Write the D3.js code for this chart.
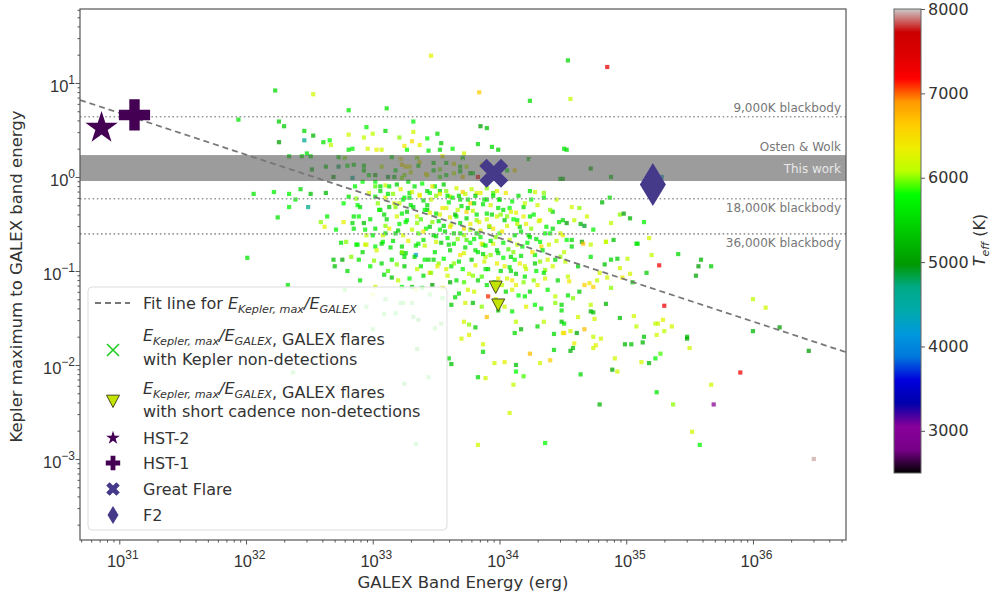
<!DOCTYPE html>
<html><head><meta charset="utf-8">
<script src="https://cdn.jsdelivr.net/npm/d3@7"></script>
<style>body{margin:0;background:#fff;} svg{display:block;font-family:"DejaVu Sans",sans-serif;}</style>
</head><body><svg id="chart" width="995" height="596"></svg>
<script>
// ---------- DATA (log10 values) ----------
// Each row: [log10 GALEX energy (erg), log10 Kepler/GALEX ratio, Teff (K)]
const flaresUpperLeft = [
[32.23,0.92,5500],[32.53,0.88,6200],[31.94,0.61,5600],[32.81,0.71,5600],[33.11,0.73,5600],[32.26,0.59,5400],[32.30,0.54,5400],[32.26,0.37,5000],[32.46,0.49,5500],[32.46,0.39,4600],[32.53,0.44,5200],[32.95,0.53,5700],[33.00,0.46,6100],[33.10,0.49,5500],[32.93,0.42,6100],[32.81,0.45,6200],[32.66,0.39,5800],[32.61,0.37,5600],[32.67,0.34,6100],[33.21,0.42,6000],[32.96,0.30,6200],[33.03,0.29,6300],[33.07,0.29,6200],[32.81,0.29,5600],[32.84,0.30,5700],[32.48,0.25,5600],[32.51,0.22,5500],[32.44,0.22,5600],[32.34,0.22,5500],[32.52,0.08,5200],[32.63,0.11,5400],[32.73,0.11,4800],[32.73,0.21,5500],[32.78,0.20,6000],[32.80,0.12,5700],[32.85,0.13,5500],[32.84,-0.01,4700],[32.69,0.00,5000],[32.93,0.12,5600],[32.93,0.07,5500],[32.97,0.02,5800],[33.02,0.02,5200],[33.07,0.11,6100],[33.12,0.00,4900],[33.18,0.07,5700],[33.15,0.21,5600],[33.22,0.19,6300],[33.23,0.13,6500],[33.26,0.11,6400],[33.17,0.00,5300],[33.23,-0.01,6000],
[32.06,-0.18,5600],[32.22,-0.16,5700],[32.34,-0.18,5700],[32.43,-0.13,5500],[32.39,-0.24,5600],[32.51,-0.18,5300],[32.63,-0.17,5200],[32.34,-0.32,5700],[32.49,-0.32,4700],[32.25,-0.43,5600],[32.64,-0.42,5700],[32.59,-0.48,6000],[32.62,-0.53,6300],[32.71,-0.56,5700],[32.77,-0.48,6300],[32.84,-0.49,5500],[32.85,-0.42,5600],[32.77,-0.28,5800],[32.81,-0.21,5600],[32.87,-0.23,6000],[32.90,-0.32,5500],[32.89,-0.42,5800],[32.93,-0.49,5300],[32.94,-0.56,5700],[33.02,-0.55,5600],[33.00,-0.62,5600],[33.10,-0.52,6000],[33.10,-0.60,5500],[33.18,-0.60,5400],[32.97,-0.17,6200],[33.02,-0.21,5700],[33.06,-0.35,5600],[33.13,-0.32,5400],[33.21,-0.28,6100],[33.23,-0.39,5700],[33.19,-0.42,6200],[32.88,-0.72,5700],[32.95,-0.72,6200],[33.08,-0.69,5800],[33.23,-0.74,5500],[32.79,-0.69,6000],[33.02,-0.74,5700],[32.86,-0.10,5700],[32.92,-0.05,5800],[33.06,-0.10,5500],[33.10,-0.09,6100],[33.02,-0.10,5900]
];
const flaresUpperMid = [
[33.46,1.29,6300],[33.84,0.90,6600],[34.24,0.81,5500],[33.32,0.59,5700],[33.32,0.48,6200],[33.31,0.38,6500],[33.43,0.41,5700],[33.51,0.46,5500],[33.54,0.36,5400],[33.53,0.29,5500],[33.37,0.34,6300],[33.27,0.29,5800],[33.25,0.33,6400],[33.85,0.54,5000],[33.90,0.52,5300],[33.94,0.32,5500],[33.99,0.29,5400],[34.53,0.29,5500],[33.71,0.20,5500],[34.23,0.19,5400],[34.12,0.07,6500],[34.50,-0.02,5300],[33.83,0.00,7200],[33.29,0.11,6300],[33.37,0.16,6400],[33.48,0.07,5600],[33.58,0.15,5500],[33.64,0.04,6100],[33.69,0.11,5600],[33.77,0.04,5300],[33.53,0.00,5900],[33.43,0.02,6200],[33.25,0.02,6000],[33.71,0.00,6500],[34.06,0.07,5600],
[34.28,-0.16,6200],[34.35,-0.17,6000],[34.25,-0.24,5800],[34.42,-0.37,5500],[34.45,-0.24,6100],[34.50,-0.46,5500],[34.37,-0.53,5700],[34.48,-0.60,6200],[34.53,-0.67,5800],[34.19,-0.32,5600],[34.14,-0.46,5700],[34.06,-0.42,6000],[34.00,-0.24,5600],[33.95,-0.17,5900],[33.90,-0.24,5500],[33.82,-0.17,6300],[33.77,-0.28,6600],[33.69,-0.24,5600],[33.61,-0.21,6100],[33.53,-0.15,5500],[33.45,-0.17,5800],[33.37,-0.19,6200],[33.29,-0.17,5600],[33.24,-0.24,5700],[33.32,-0.32,5500],[33.43,-0.35,5300],[33.50,-0.39,5600],[33.58,-0.33,6200],[33.66,-0.42,5700],[33.74,-0.37,6500],[33.82,-0.46,6000],[33.90,-0.39,5600],[33.98,-0.42,6200],[34.08,-0.33,5800],[34.16,-0.53,5500],[34.24,-0.42,5700],[34.32,-0.46,6300],[34.40,-0.60,5700],[33.27,-0.46,5700],[33.35,-0.49,6000],[33.45,-0.53,5400],[33.53,-0.56,5800],[33.61,-0.53,6400],[33.69,-0.60,5600],[33.77,-0.56,6000],[33.85,-0.64,5700],[33.92,-0.53,5300],[34.00,-0.60,5900],[34.08,-0.67,6100],[34.24,-0.64,5600],[34.32,-0.69,5800],[33.40,-0.67,5600],[33.50,-0.69,6200],[33.64,-0.71,5700],[33.74,-0.67,5900],[33.87,-0.72,5500],[33.95,-0.71,6200]
];
const flaresRight = [
[34.54,1.24,5500],[34.85,1.17,7400],[34.56,0.83,6100],[34.51,0.30,5600],[34.72,0.09,5200],[34.88,0.00,5300],[34.48,-0.02,5400],[35.28,0.00,4300],[34.87,-0.22,5500],[34.81,-0.27,5200],[34.57,-0.32,6200],[34.63,-0.33,6000],[34.69,-0.42,6200],[34.95,-0.40,6000],[34.98,-0.39,5000],[35.03,-0.44,5200],[34.88,-0.49,6100],[35.14,-0.48,5700],[34.53,-0.49,5000],[34.64,-0.50,5200],[34.67,-0.52,4900],[34.59,-0.46,6100],[34.74,-0.56,5700],[35.09,-0.71,5600],[35.18,-0.65,6200],[34.90,-0.67,5300],[34.84,-0.69,6200],[34.57,-0.67,5500],[34.65,-0.69,5100],
[35.26,-0.94,7300],[35.59,-0.88,5200],[35.57,-0.95,5000],[35.67,-0.95,5400],[35.55,-1.05,5100],[35.41,-0.82,5500],[35.20,-0.83,6100],[35.16,-1.02,5400],[35.30,-1.37,7300],[36.00,-1.30,6100],[36.10,-1.39,6200],[36.00,-1.64,5200],[36.21,-1.60,5000],[36.44,-1.85,5000],[35.90,-2.08,7300],[35.48,-1.70,5300],[35.48,-1.72,5100],[35.50,-1.82,6200],[35.67,-2.21,6200],[35.69,-2.42,3000],[35.52,-2.71,6200],[35.58,-2.85,5700],[36.48,-3.00,7950],[34.79,-2.42,5200],[35.24,-2.29,5600],[35.37,-2.42,6000],[34.64,-2.10,5500],[34.89,-2.05,5100],[34.93,-2.07,6200],[34.91,-1.93,6200],[35.12,-1.97,6200],[35.18,-1.98,5200],[35.23,-1.93,5700],[35.27,-1.88,5900],[34.99,-1.78,5200],[35.04,-1.78,5300],[35.13,-1.76,5200],[35.14,-1.70,5300],[35.24,-1.68,6200],[35.30,-1.64,6100],[35.36,-1.59,6200],[35.25,-1.56,6200],[35.23,-1.56,6100],[35.29,-1.52,6300],[35.08,-1.59,6100],[35.06,-1.48,6200],[34.95,-1.50,5300],[34.84,-1.35,5200],[34.74,-1.44,5300],[34.72,-1.43,5200],[34.80,-1.72,6200],[34.74,-1.70,6100],[34.76,-1.79,6300],[34.74,-1.82,6200],[34.59,-1.77,6300],[34.58,-1.82,5300],[34.56,-1.85,5200],[34.67,-1.62,6700],[34.61,-1.66,5100],[34.51,-1.66,6600],[34.56,-1.64,6200],[34.49,-1.54,5300],[34.75,-1.51,6200],[34.49,-1.36,5500],[34.62,-1.49,6200],[34.72,-1.36,6100],[34.63,-1.22,5400],[34.54,-1.26,5600],[34.58,-1.29,6000],[34.74,-1.17,6600],[34.67,-1.15,6600],[34.71,-1.13,6400],[34.77,-1.10,6100],[34.85,-1.07,6200],[34.88,-1.18,6000],[34.97,-1.07,6400],[35.03,-1.03,6200],[35.05,-1.12,5400],[34.95,-0.97,6200],[34.88,-0.88,5500],[34.83,-0.93,5300],[34.93,-0.87,5400],[35.01,-0.87,6100],[34.72,-0.85,5600],[34.79,-1.02,6200],[34.62,-0.95,5400],[34.54,-1.06,6100],[34.55,-1.11,6400],[34.66,-0.71,6700],[34.57,-0.74,5500],[34.72,-0.72,6100],[34.84,-0.69,6100],[35.08,-0.71,5600],[34.48,-0.85,6000]
];
const flaresLower = [
[33.91,-1.27,7100],[33.90,-1.49,6700],[33.34,-2.84,5500],[33.83,-2.85,6200],[34.36,-2.83,5800],[34.08,-2.51,6200],[33.83,-2.13,5500],[33.89,-2.14,6200],[34.11,-2.21,6100],[34.13,-2.00,5300],[34.13,-2.07,5800],[34.19,-2.12,5900],[33.96,-1.98,6200],[34.04,-1.97,6300],[34.24,-1.88,6700],[34.32,-1.98,6200],[34.40,-1.95,6600],[34.43,-1.84,5500],[33.60,-1.93,5500],[33.62,-1.99,5300],[33.44,-2.13,5500],[33.25,-2.20,5300],[33.35,-1.83,5300],[33.87,-1.86,5500],[33.87,-1.78,6200],[33.70,-1.72,6200],[33.76,-1.68,6300],[33.49,-1.61,5500],[33.54,-1.56,5400],[33.36,-1.52,5200],[33.32,-1.49,5300],[33.76,-1.57,6000],[33.81,-1.60,5400],[33.72,-1.54,6200],[34.12,-1.66,5500],[34.17,-1.62,5200],[34.30,-1.59,5500],[34.35,-1.54,6100],[34.43,-1.67,5500],[34.51,-1.56,5600],[34.50,-1.66,6400],[33.24,-1.34,5600],[33.31,-1.34,5500],[33.55,-1.29,5700],[33.62,-1.36,5400],[33.73,-1.34,6200],[33.79,-1.34,5300],[33.86,-1.38,6000],[33.99,-1.42,5500],[34.04,-1.38,6200],[34.10,-1.43,5700],[34.13,-1.54,6100],[34.21,-1.38,6300],[34.28,-1.36,5800],[34.33,-1.40,5500],[34.44,-1.34,6000],[34.49,-1.42,5600],[33.47,-1.15,5000],[33.61,-1.12,5100],[33.68,-1.24,5500],[33.75,-1.20,6200],[33.83,-1.10,5500],[34.02,-1.15,6100],[34.10,-1.20,6200],[34.15,-1.26,5800],[34.24,-1.22,5500],[34.30,-1.15,6300],[34.38,-1.20,5700],[34.44,-1.27,6100],[34.36,-1.08,6200],[34.20,-1.06,5600],[34.10,-1.10,6400],[33.31,-1.17,5400],[33.39,-1.18,5700],[33.45,-1.02,6600],[33.34,-0.83,4200],[33.26,-0.81,5500],[33.41,-0.88,5700],[33.52,-0.92,6000],[33.62,-0.95,5600],[33.72,-0.81,6200],[33.81,-0.78,5600],[33.89,-0.85,6100],[33.99,-0.81,5500],[34.04,-0.95,6300],[34.12,-0.88,5800],[34.20,-0.95,6200],[34.28,-0.83,5700],[34.36,-0.99,6000],[34.44,-0.88,5500],[34.51,-0.80,6100],[34.33,-0.74,6500],[33.86,-0.71,6300],[33.60,-0.72,5500],[33.36,-0.71,5700],
[32.01,-0.86,5600],[32.33,-1.15,5600],[32.37,-2.08,5500],[32.69,-0.88,5300],[32.76,-0.88,5100],[32.89,-0.88,5600],[33.01,-0.89,6000],[33.09,-1.04,5500],[33.15,-1.07,5300],[33.19,-0.93,6000],[33.23,-1.17,5700],[33.02,-1.17,6200],[33.22,-1.34,5500],[33.09,-1.46,5700],[33.00,-1.62,5600],[32.87,-0.72,5700],[32.94,-0.72,6200],[33.07,-0.71,5500],[33.23,-0.81,5300]
];
const flaresCore = [
[33.30,-0.30,5600],[33.35,-0.42,6200],[33.40,-0.25,5500],[33.42,-0.55,5800],[33.45,-0.38,6300],[33.48,-0.62,5400],[33.50,-0.20,6000],[33.52,-0.47,5600],[33.55,-0.33,6400],[33.57,-0.58,5500],[33.60,-0.27,5700],[33.62,-0.51,6200],[33.65,-0.40,5300],[33.67,-0.66,6000],[33.70,-0.31,5600],[33.72,-0.55,6500],[33.74,-0.44,5500],[33.77,-0.70,5800],[33.79,-0.36,6100],[33.82,-0.60,5400],[33.84,-0.48,6300],[33.87,-0.29,5600],[33.89,-0.73,5700],[33.92,-0.52,6200],[33.94,-0.40,5500],[33.97,-0.64,6000],[33.99,-0.33,5600],[34.02,-0.58,6400],[34.04,-0.46,5400],[34.07,-0.77,5900],[34.09,-0.37,6200],[34.12,-0.62,5500],[34.14,-0.50,6100],[34.17,-0.84,5600],[34.19,-0.42,6300],[34.22,-0.70,5700],[34.25,-0.55,6000],[34.28,-0.92,5400],[34.31,-0.47,6200],[34.34,-0.78,5600],
[33.05,-0.35,5700],[33.08,-0.62,6100],[33.11,-0.45,5500],[33.14,-0.75,5600],[33.17,-0.28,6200],[33.20,-0.57,5400],[33.23,-0.80,6000],[33.26,-0.48,5700],[33.28,-0.68,6300],[33.33,-0.85,5500],[33.36,-0.60,5900],[33.38,-0.95,5600],[33.41,-0.73,6100],[33.44,-0.88,5500],[33.46,-1.02,6000],[33.49,-0.80,5600],[33.51,-0.95,6300],[33.54,-0.70,5400],[33.56,-0.87,5800],[33.59,-1.05,6200],[33.61,-0.78,5500],[33.64,-0.92,6000],[33.66,-1.10,5600],[33.69,-0.83,6400],[33.71,-0.98,5700],[33.73,-0.75,5500],[33.76,-1.03,6100],[33.78,-0.88,5400],[33.81,-0.94,6300],[33.83,-0.80,5600],[33.86,-1.06,5900],[33.88,-0.90,6200],[33.91,-0.98,5500],[33.93,-0.83,6000],[33.96,-1.12,5600],[33.98,-0.92,6300],[34.01,-1.00,5500],[34.03,-0.86,5800],[34.06,-1.08,6200],[34.08,-0.96,5600],[34.11,-0.80,6000],[34.13,-1.03,5400],[34.16,-0.92,6300],[34.18,-0.74,5700],[34.21,-0.98,6100],[34.23,-0.62,5500],[34.26,-0.80,6400],[34.29,-0.66,5600],[34.32,-0.90,6000],[34.36,-0.60,5800],[34.39,-0.72,6200],[34.42,-0.55,5500],[34.45,-0.68,6100],[34.47,-0.48,5600],[34.50,-0.62,6300],
[33.02,-0.05,5800],[33.06,-0.15,5500],[33.10,-0.22,6200],[33.13,-0.10,5600],[33.16,-0.18,6000],[33.19,-0.08,5400],[33.22,-0.13,6300],[33.25,-0.22,5700],[33.28,-0.05,5500],[33.31,-0.16,6200],[33.33,-0.10,5600],[33.37,-0.20,6400],[33.39,-0.07,5800],[33.43,-0.15,5500],[33.46,-0.24,6100],[33.49,-0.10,5600],[33.53,-0.18,6300],[33.56,-0.08,5400],[33.58,-0.15,6000],[33.63,-0.22,5700],[33.66,-0.12,6200],[33.68,-0.20,5500],[33.71,-0.16,6600],[33.75,-0.24,5600],[33.78,-0.13,6100],[33.81,-0.20,5400],[33.85,-0.17,6300],[33.88,-0.24,5700],[33.90,-0.12,6000],[33.95,-0.20,5500],[33.98,-0.15,6200],[34.00,-0.24,5600],[34.05,-0.17,6400],[34.10,-0.26,5800],[34.15,-0.20,5500],[34.20,-0.28,6100],[34.24,-0.15,5600],[34.30,-0.30,6200],[34.35,-0.22,5700],[34.40,-0.35,6000],
[33.30,0.05,6200],[33.36,0.12,5600],[33.42,0.03,6400],[33.48,0.15,5500],[33.53,0.08,6000],[33.58,0.02,5700],[33.64,0.14,6300],[33.69,0.06,5500],[33.74,0.11,6100],[33.79,0.04,5600],[33.86,0.13,6500],[33.92,0.09,5800],[33.35,0.20,6000],[33.44,0.28,5600],[33.55,0.22,6300],[33.63,0.30,5700],[33.72,0.25,6200],[33.83,0.35,5500],
[32.98,-0.45,5600],[32.95,-0.62,6100],[32.92,-0.80,5500],[32.98,-0.95,5700],[33.03,-0.78,6200],[33.07,-0.92,5500],[33.12,-1.00,5900],[33.15,-0.88,5600],[33.20,-1.10,6100],[33.25,-0.95,5400],[33.29,-1.08,5800],[33.34,-1.20,6200],[33.40,-1.05,5500],[33.45,-1.25,5700],[33.55,-1.18,6300],[33.65,-1.28,5500],[33.72,-1.12,5900],[33.80,-1.22,6200],[33.90,-1.15,5600],[33.97,-1.30,6100],[34.05,-1.22,5500],[34.13,-1.15,6300],[34.20,-1.27,5700],[34.27,-1.10,6000],[34.35,-1.02,5600],[34.42,-0.95,6200],[34.46,-1.10,5500],[34.52,-0.90,6100],[32.88,-0.30,5700],[32.85,-0.55,5600],[32.83,-0.85,6000],[32.80,-1.00,5500],[32.90,-1.10,5600],[33.00,-1.25,6200],[33.10,-1.30,5500],[33.18,-1.45,5700],[32.75,-0.70,5600],[32.70,-0.95,5300],[32.78,-1.20,5700],[32.95,-1.38,5500]
];
const flaresCoreDense = [
[33.04,-0.28,6000],[33.09,-0.40,5500],[33.13,-0.55,6300],[33.16,-0.68,5600],[33.21,-0.50,5800],[33.24,-0.62,6200],[33.27,-0.37,5400],[33.31,-0.56,6100],[33.34,-0.73,5600],[33.38,-0.45,5900],[33.40,-0.58,6400],[33.43,-0.30,5500],[33.47,-0.48,6000],[33.50,-0.63,5600],[33.53,-0.40,6200],[33.56,-0.52,5500],[33.59,-0.65,5800],[33.61,-0.43,6300],[33.64,-0.60,5500],[33.67,-0.35,6100],[33.69,-0.49,5600],[33.72,-0.62,6000],[33.75,-0.33,5500],[33.77,-0.50,6300],[33.80,-0.66,5700],[33.82,-0.40,5600],[33.85,-0.57,6200],[33.87,-0.82,5500],[33.90,-0.45,6100],[33.93,-0.68,5600],[33.95,-0.55,6400],[33.98,-0.78,5500],[34.01,-0.40,6000],[34.03,-0.70,5700],[34.06,-0.52,6200],[34.09,-0.85,5500],[34.11,-0.45,5800],[34.14,-0.72,6100],[34.17,-0.58,5600],[34.21,-0.50,6300],
[33.12,-0.18,5600],[33.18,-0.32,6000],[33.29,-0.22,5600],[33.41,-0.35,5800],[33.47,-0.10,6400],[33.59,-0.20,5600],[33.73,-0.18,6100],[33.80,-0.28,5500],[33.93,-0.30,6200],[34.03,-0.35,5600],[34.13,-0.38,6300],[34.27,-0.40,5700],[33.25,-0.85,5600],[33.35,-0.98,6100],[33.48,-0.88,5500],[33.58,-0.98,6200],[33.68,-0.90,5600],[33.79,-1.05,6000],[33.89,-0.98,5600],[33.99,-1.08,6300],[34.09,-1.00,5500],[34.19,-1.12,6000],[34.29,-1.00,5700],[34.38,-0.88,6200]
];
// Short-cadence non-detections (triangles): [log10 E, log10 ratio]
const shortCadence = [[33.97,-1.17],[33.99,-1.36]];
// Named events: [name, log10 E, log10 ratio]
const events = [["HST-2",30.86,0.52],["HST-1",31.12,0.66],["Great Flare",33.955,0.04],["F2",35.21,-0.08]];
// Reference levels (ratio values)
const refLines = [["9,000K blackbody",4.37],["Osten & Wolk",1.52],["18,000K blackbody",0.587],["36,000K blackbody",0.248]];
const thisWorkBand = [0.906,1.71];
// Fit line endpoints (log10 E, log10 ratio)
const fitLine = [[30.69,0.819],[36.73,-1.862]];
const xTickExps = [31,32,33,34,35,36];
const yTickExps = [-3,-2,-1,0,1];
const cbTicks = [3000,4000,5000,6000,7000,8000];
const teffDomain = [2500,8000];

// ---------- nipy_spectral colormap ----------
const NS_R=[0,0.4667,0.5333,0,0,0,0,0,0,0,0,0,0,0.7333,0.9333,1,1,1,0.8667,0.8,0.8];
const NS_G=[0,0,0,0,0,0.4667,0.6,0.6667,0.6667,0.6,0.7333,0.8667,1,1,0.9333,0.8,0.6,0,0,0,0.8];
const NS_B=[0,0.5333,0.6,0.6667,0.8667,0.8667,0.8667,0.6667,0.5333,0,0,0,0,0,0,0,0,0,0,0,0.8];
function nipy(t){
  t=Math.max(0,Math.min(1,t)); const p=t*20, i=Math.min(19,Math.floor(p)), f=p-i;
  const c=a=>Math.round(255*(a[i]+(a[i+1]-a[i])*f));
  return `rgb(${c(NS_R)},${c(NS_G)},${c(NS_B)})`;
}
const tNorm = d3.scaleLinear().domain(teffDomain).range([0,1]);
const color = v => nipy(tNorm(v));

// ---------- layout ----------
const svg = d3.select("#chart");
const L=80,R=846,T=9,B=540;
const x = d3.scaleLog().domain([10**30.69,10**36.734]).range([L,R]);
const y = d3.scaleLog().domain([10**-3.862,10**1.787]).range([B,T]);
const X = v=>x(10**v), Y = v=>y(10**v);
const axisCol="#555", txtCol="#333";

const defs = svg.append("defs");
defs.append("clipPath").attr("id","plotclip").append("rect").attr("x",L).attr("y",T).attr("width",R-L).attr("height",B-T);

const plot = svg.append("g").attr("clip-path","url(#plotclip)");

// scatter
const allFlares = [].concat(flaresUpperLeft,flaresUpperMid,flaresRight,flaresLower,flaresCore,flaresCoreDense);
const ps=4.2;
plot.append("g").selectAll("rect").data(allFlares).join("rect")
  .attr("x",d=>X(d[0])-ps/2).attr("y",d=>Y(d[1])-ps/2).attr("width",ps).attr("height",ps)
  .attr("fill",d=>color(d[2])).attr("opacity",0.75);

// band (this work)
plot.append("rect").attr("x",L).attr("width",R-L)
  .attr("y",y(thisWorkBand[1])).attr("height",y(thisWorkBand[0])-y(thisWorkBand[1]))
  .attr("fill","#5a5a5a").attr("opacity",0.6);

// dotted reference lines
plot.append("g").selectAll("line").data(refLines).join("line")
  .attr("x1",L).attr("x2",R).attr("y1",d=>y(d[1])).attr("y2",d=>y(d[1]))
  .attr("stroke","#999").attr("stroke-width",1.6).attr("stroke-dasharray","1.6,2.6");

// labels for reference lines
const refLab = svg.append("g").attr("font-size",12).attr("text-anchor","end").attr("fill","#777");
refLab.selectAll("text").data(refLines).join("text")
  .attr("x",R-5).attr("y",d=> d[0]==="Osten & Wolk" ? y(d[1])-9 : (d[0].startsWith("9,") ? y(d[1])-5 : y(d[1])+13))
  .text(d=>d[0]);
refLab.append("text").attr("x",R-5).attr("y",(y(thisWorkBand[0])+y(thisWorkBand[1]))/2+4.5)
  .attr("fill","#e8e8e8").text("This work");

// fit line
plot.append("line").attr("x1",X(fitLine[0][0])).attr("y1",Y(fitLine[0][1]))
  .attr("x2",X(fitLine[1][0])).attr("y2",Y(fitLine[1][1]))
  .attr("stroke","#777").attr("stroke-width",1.8).attr("stroke-dasharray","6,4");

// short cadence triangles
const triPath = s=>`M${-s/2},${-s*0.45}L${s/2},${-s*0.45}L0,${s*0.5}Z`;
plot.append("g").selectAll("path").data(shortCadence).join("path")
  .attr("transform",d=>`translate(${X(d[0])},${Y(d[1])})`)
  .attr("d",triPath(13)).attr("fill","#c3e300").attr("stroke","#4a4a20").attr("stroke-width",1);

// events
const hstCol="#440154", gfCol="#453a8a";
function eventPath(name,big){
  if(name==="HST-2") return d3.symbol(d3.symbolStar, (big?17:7.2)**2/0.8908)();
  if(name==="HST-1") return d3.symbol(d3.symbolCross, (2*(big?5.2:2.4))**2*5)();
  if(name==="Great Flare") return d3.symbol(d3.symbolCross, (2*(big?5.1:2.4))**2*5)();
  if(name==="F2"){ const w=big?13:5.5, h=big?21.5:9; return `M0,${-h}L${w},0L0,${h}L${-w},0Z`; }
}
const evCol = n => (n.startsWith("HST") ? hstCol : gfCol);
const evRot = n => (n==="Great Flare" ? 45 : 0);
svg.append("g").selectAll("path").data(events).join("path")
  .attr("transform",d=>`translate(${X(d[1])},${Y(d[2])}) rotate(${evRot(d[0])})`)
  .attr("d",d=>eventPath(d[0],true)).attr("fill",d=>evCol(d[0]));

// ---------- axes ----------
function supLabel(sel, exp){
  sel.append("tspan").text("10");
  sel.append("tspan").attr("font-size",12).attr("dy",-8).text(exp<0?"\u2212"+(-exp):exp);
}
const xMinor=[]; for(let e=30;e<=36;e++) for(let m=2;m<=9;m++){const v=m*10**e; if(v>=x.domain()[0]&&v<=x.domain()[1]) xMinor.push(v);}
svg.append("g").attr("transform",`translate(0,${B})`)
  .call(d3.axisBottom(x).tickValues(xMinor).tickSize(2.5).tickFormat(()=>""))
  .call(g=>{g.select(".domain").remove(); g.selectAll("line").attr("stroke",axisCol);});
const xg = svg.append("g").attr("transform",`translate(0,${B})`)
  .call(d3.axisBottom(x).tickValues(xTickExps.map(e=>10**e)).tickSize(4.5).tickFormat(()=>""))
  .call(g=>{g.select(".domain").remove(); g.selectAll("line").attr("stroke",axisCol);});
xg.selectAll(".tick").each(function(d,i){
  const t=d3.select(this).append("text").attr("y",27).attr("x",3).attr("fill",txtCol).attr("font-size",16.5).attr("text-anchor","middle");
  supLabel(t,xTickExps[i]);
});
const yMinor=[]; for(let e=-4;e<=1;e++) for(let m=2;m<=9;m++){const v=m*10**e; if(v>=y.domain()[0]&&v<=y.domain()[1]) yMinor.push(v);}
svg.append("g").attr("transform",`translate(${L},0)`)
  .call(d3.axisLeft(y).tickValues(yMinor).tickSize(2.5).tickFormat(()=>""))
  .call(g=>{g.select(".domain").remove(); g.selectAll("line").attr("stroke",axisCol);});
const yg = svg.append("g").attr("transform",`translate(${L},0)`)
  .call(d3.axisLeft(y).tickValues(yTickExps.map(e=>10**e)).tickSize(4.5).tickFormat(()=>""))
  .call(g=>{g.select(".domain").remove(); g.selectAll("line").attr("stroke",axisCol);});
yg.selectAll(".tick").each(function(d,i){
  const t=d3.select(this).append("text").attr("x",-5).attr("y",9).attr("fill",txtCol).attr("font-size",16.5).attr("text-anchor","end");
  supLabel(t,yTickExps[i]);
});
svg.append("rect").attr("x",L).attr("y",T).attr("width",R-L).attr("height",B-T)
  .attr("fill","none").attr("stroke",axisCol).attr("stroke-width",1.2);

svg.append("text").attr("x",(L+R)/2).attr("y",588).attr("text-anchor","middle")
  .attr("font-size",16.5).attr("fill",txtCol).text("GALEX Band Energy (erg)");
svg.append("text").attr("transform",`translate(22,${(T+B)/2+2}) rotate(-90)`).attr("text-anchor","middle")
  .attr("font-size",16.5).attr("fill",txtCol).text("Kepler maximum to GALEX band energy");

// ---------- legend ----------
const lg = svg.append("g");
lg.append("rect").attr("x",88).attr("y",287).attr("width",359).attr("height",243).attr("rx",4)
  .attr("fill","#fff").attr("fill-opacity",0.85).attr("stroke","#ddd");
const lfs=16, mx=113, tx=143;
function mathE(t){
  t.append("tspan").attr("font-style","italic").text("E");
  t.append("tspan").attr("font-style","italic").attr("font-size",lfs*0.7).attr("dy",4).text("Kepler, max");
  t.append("tspan").attr("font-style","italic").attr("dy",-4).text("/E");
  t.append("tspan").attr("font-style","italic").attr("font-size",lfs*0.7).attr("dy",4).text("GALEX");
  t.append("tspan").attr("dy",-4).text("");
}
const lt = (yy)=>lg.append("text").attr("x",tx).attr("y",yy).attr("font-size",lfs).attr("fill",txtCol);
lg.append("line").attr("x1",95).attr("x2",130).attr("y1",303).attr("y2",303)
  .attr("stroke","#777").attr("stroke-width",1.8).attr("stroke-dasharray","6,4");
{ const t=lt(309); t.append("tspan").text("Fit line for "); mathE(t); }
lg.append("path").attr("d","M-6,-6L6,6M-6,6L6,-6").attr("transform",`translate(${mx},350)`)
  .attr("stroke","#22cc22").attr("stroke-width",1.6);
{ const t=lt(341); mathE(t); t.append("tspan").text(", GALEX flares"); }
lt(365).text("with Kepler non-detections");
lg.append("path").attr("d",triPath(13)).attr("transform",`translate(${mx},401)`)
  .attr("fill","#c3e300").attr("stroke","#4a4a20").attr("stroke-width",1);
{ const t=lt(394); mathE(t); t.append("tspan").text(", GALEX flares"); }
lt(417).text("with short cadence non-detections");
const evY=[438,463,489,515];
events.forEach((e,i)=>{
  lg.append("path").attr("d",eventPath(e[0],false))
    .attr("transform",`translate(${mx},${evY[i]}) rotate(${evRot(e[0])})`).attr("fill",evCol(e[0]));
  lt(evY[i]+6).text(e[0]);
});

// ---------- colorbar ----------
const cbX=894, cbW=27, cbT=9, cbB=473;
const grad = defs.append("linearGradient").attr("id","cbgrad").attr("x1",0).attr("x2",0).attr("y1",1).attr("y2",0);
d3.range(0,1.0001,0.01).forEach(t=>grad.append("stop").attr("offset",t).attr("stop-color",nipy(t)));
svg.append("rect").attr("x",cbX).attr("y",cbT).attr("width",cbW).attr("height",cbB-cbT).attr("fill","url(#cbgrad)");
svg.append("rect").attr("x",cbX).attr("y",cbT).attr("width",cbW).attr("height",cbB-cbT)
  .attr("fill","none").attr("stroke","#666").attr("stroke-width",1);
const cy = d3.scaleLinear().domain(teffDomain).range([cbB,cbT]);
svg.append("g").attr("transform",`translate(${cbX+cbW},0)`)
  .call(d3.axisRight(cy).tickValues(cbTicks).tickSize(4).tickFormat(d3.format("d")))
  .call(g=>{g.select(".domain").remove(); g.selectAll("line").attr("stroke",axisCol);
    g.selectAll("text").attr("font-size",16).attr("fill",txtCol).attr("font-family","DejaVu Sans").attr("x",7);});
{ const t=svg.append("text").attr("transform",`translate(985,240) rotate(-90)`).attr("text-anchor","middle")
    .attr("font-size",16).attr("fill",txtCol);
  t.append("tspan").attr("font-style","italic").text("T");
  t.append("tspan").attr("font-style","italic").attr("font-size",11).attr("dy",4).text("eff");
  t.append("tspan").attr("dy",-4).text(" (K)"); }
</script></body></html>
